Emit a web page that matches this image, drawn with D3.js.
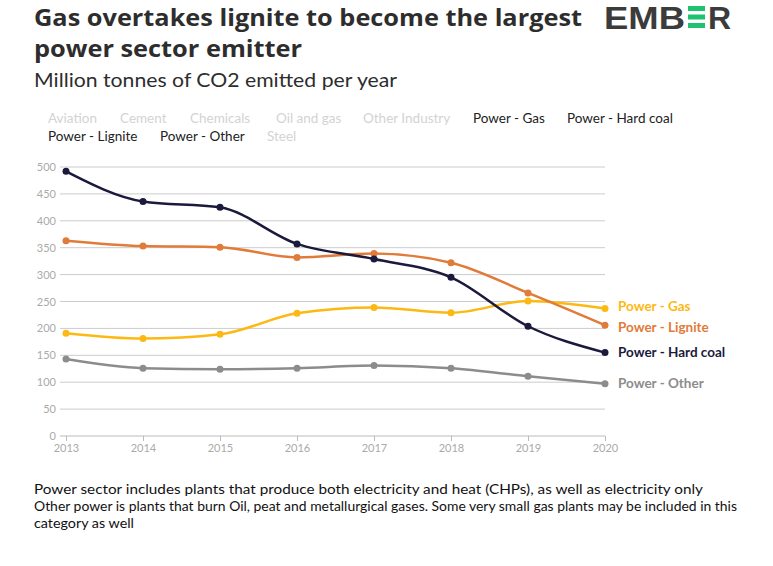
<!DOCTYPE html>
<html><head><meta charset="utf-8">
<script src="https://cdn.jsdelivr.net/npm/d3@7"></script>
<style>body{margin:0;background:#fff;font-family:Lato,sans-serif}</style>
</head><body><svg id="c" width="773" height="566"></svg>
<script>
const years=[2013,2014,2015,2016,2017,2018,2019,2020];
const hardCoal=[492,436,425,357,329,295,204,155];
const lignite=[363,353,351,332,339,322,266,206];
const gas=[191,181,189,228,239,229,251,237];
const other=[143,126,124,126,131,126,111,97];
const yTicks=[0,50,100,150,200,250,300,350,400,450,500];
const legendRow1=["Aviation","Cement","Chemicals","Oil and gas","Other Industry","Power - Gas","Power - Hard coal"];
const legendRow2=["Power - Lignite","Power - Other","Steel"];
const activeNames=["Power - Gas","Power - Hard coal","Power - Lignite","Power - Other"];
const series=[
 {name:"Power - Other",values:other,color:"#8c8c8c",dy:0},
 {name:"Power - Gas",values:gas,color:"#fdb913",dy:-2},
 {name:"Power - Lignite",values:lignite,color:"#e07b39",dy:2},
 {name:"Power - Hard coal",values:hardCoal,color:"#1b1a3d",dy:0}];
const svg=d3.select("#c");
svg.append("text").attr("x",34).attr("y",26).attr("font-size",24).attr("font-weight",700).attr("fill","#2d2d2d").attr("font-family","'Open Sans'").attr("textLength",548).attr("lengthAdjust","spacingAndGlyphs").text("Gas overtakes lignite to become the largest");
svg.append("text").attr("x",34).attr("y",57).attr("font-size",24).attr("font-weight",700).attr("fill","#2d2d2d").attr("font-family","'Open Sans'").attr("textLength",268).attr("lengthAdjust","spacingAndGlyphs").text("power sector emitter");
svg.append("text").attr("x",34).attr("y",87).attr("font-size",20).attr("fill","#2d2d2d").attr("textLength",363).attr("lengthAdjust","spacingAndGlyphs").text("Million tonnes of CO2 emitted per year");
// logo
const lg=svg.append("g").attr("font-family","'Liberation Sans'").attr("font-weight",700).attr("font-size",32).attr("fill","#3b3b3b");
lg.append("text").attr("x",604).attr("y",29).attr("textLength",81).attr("lengthAdjust","spacingAndGlyphs").text("EMB");
[6,14.5,23].forEach(y=>lg.append("rect").attr("x",688).attr("y",y).attr("width",17).attr("height",5).attr("fill","#1fc26f"));
lg.append("text").attr("x",708).attr("y",29).text("R");
// legend
const legX1=[48,120,190,276,363,473,567], legX2=[48,160,267];
function legRow(items,xs,y){items.forEach((t,i)=>svg.append("text").attr("x",xs[i]).attr("y",y).attr("font-size",13.5).attr("fill",activeNames.includes(t)?"#222":"#d3d3d3").text(t));}
legRow(legendRow1,legX1,123);legRow(legendRow2,legX2,141);
const x=d3.scaleLinear().domain([2013,2020]).range([66,605]);
const y=d3.scaleLinear().domain([0,500]).range([436,167]);
const gy=svg.append("g").attr("transform","translate(60,0)").call(d3.axisLeft(y).tickValues(yTicks).tickSize(0).tickPadding(4));
gy.select(".domain").remove();
gy.selectAll("text").attr("fill","#aaa").attr("font-size",11).attr("font-family","Lato");
svg.append("g").selectAll("line").data(yTicks).join("line").attr("x1",60).attr("x2",605).attr("y1",d=>y(d)).attr("y2",d=>y(d)).attr("stroke",d=>d===0?"#bbb":"#ccc").attr("stroke-width",1);
const gx=svg.append("g").attr("transform","translate(0,436)").call(d3.axisBottom(x).tickValues(years).tickFormat(d3.format("d")).tickSize(5));
gx.select(".domain").remove();
gx.selectAll("line").attr("stroke","#bbb");
gx.selectAll("text").attr("fill","#aaa").attr("font-size",11).attr("font-family","Lato");
const line=d3.line().x((d,i)=>x(years[i])).y(d=>y(d)).curve(d3.curveMonotoneX);
series.forEach(s=>{
 svg.append("path").attr("d",line(s.values)).attr("fill","none").attr("stroke",s.color).attr("stroke-width",2.5);
 svg.append("g").selectAll("circle").data(s.values).join("circle").attr("cx",(d,i)=>x(years[i])).attr("cy",d=>y(d)).attr("r",3.5).attr("fill",s.color);
 const last=s.values[s.values.length-1];
 svg.append("text").attr("x",618).attr("y",y(last)+s.dy+4.5).attr("font-size",13.5).attr("font-weight",700).attr("fill",s.color).text(s.name);
});
const foot=[["Power sector includes plants that produce both electricity and heat (CHPs), as well as electricity only",669],
 ["Other power is plants that burn Oil, peat and metallurgical gases. Some very small gas plants may be included in this",703],
 ["category as well",100]];
foot.forEach((f,i)=>svg.append("text").attr("x",34).attr("y",494+i*17).attr("font-size",13).attr("fill","#111").attr("textLength",f[1]).attr("lengthAdjust","spacingAndGlyphs").text(f[0]));
</script></body></html>
